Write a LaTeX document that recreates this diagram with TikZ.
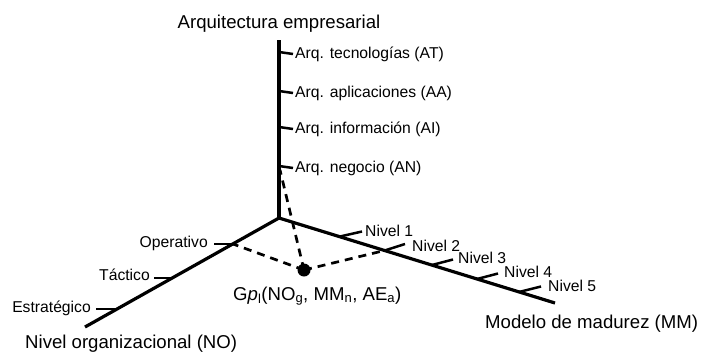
\documentclass[tikz,border=0pt]{standalone}
\usepackage{fontspec}
\setmainfont{Liberation Sans}
\begin{document}
\begin{tikzpicture}[x=1pt,y=-1pt,
  axis/.style={line width=3.2pt},
  tick/.style={line width=2.5pt},
  dashline/.style={line width=2.7pt, dash pattern=on 8pt off 6pt},
  big/.style={font=\fontsize{18.6}{22}\selectfont, inner sep=0pt},
  small/.style={font=\fontsize{15.7}{19}\selectfont, inner sep=0pt}]
\useasboundingbox (0,0) rectangle (709,351);
% axes
\coordinate (O) at (279,218);
\coordinate (AEtop) at (279,40);
\coordinate (NOend) at (85,327);
\coordinate (MMend) at (555,303);
\draw[axis] (AEtop) -- (O);
\draw[axis] (O) -- (NOend);
\draw[axis] (O) -- (MMend);
% vertical ticks
\coordinate (at) at (279,52); \coordinate (at2) at (293,54);
\coordinate (aa) at (279,91); \coordinate (aa2) at (293,93);
\coordinate (ai) at (279,127); \coordinate (ai2) at (293,129);
\coordinate (an) at (279,166); \coordinate (an2) at (293,168);
\draw[tick] (at) -- (at2);
\draw[tick] (aa) -- (aa2);
\draw[tick] (ai) -- (ai2);
\draw[tick] (an) -- (an2);
% NO ticks
\coordinate (op) at (233,244); \coordinate (op2) at (214,244);
\coordinate (ta) at (173,278); \coordinate (ta2) at (154,278);
\coordinate (es) at (117,309); \coordinate (es2) at (96,309);
\draw[tick] (op) -- (op2);
\draw[tick] (ta) -- (ta2);
\draw[tick] (es) -- (es2);
% MM ticks
\coordinate (n1) at (340,236.5); \coordinate (n1b) at (362,231.5);
\coordinate (n2) at (385,250.4); \coordinate (n2b) at (405,244);
\coordinate (n3) at (432,265); \coordinate (n3b) at (453,259.5);
\coordinate (n4) at (477,279); \coordinate (n4b) at (498,273.5);
\coordinate (n5) at (519,292); \coordinate (n5b) at (541,286.5);
\draw[tick] (n1) -- (n1b);
\draw[tick] (n2) -- (n2b);
\draw[tick] (n3) -- (n3b);
\draw[tick] (n4) -- (n4b);
\draw[tick] (n5) -- (n5b);
% point
\coordinate (P) at (304,270);
\coordinate (anP) at (280,170);
\draw[dashline] (P) -- (anP);
\draw[dashline] (P) -- (op);
\draw[dashline] (P) -- (n2);
\fill (P) circle (6.5pt);
% labels
\node[big, anchor=base] (lae) at (279,28) {Arquitectura empresarial};
\node[small, anchor=base west] (lat) at (295,58) {Arq. tecnologías (AT)};
\node[small, anchor=base west] (laa) at (295,97) {Arq. aplicaciones (AA)};
\node[small, anchor=base west] (lai) at (295,133) {Arq. información (AI)};
\node[small, anchor=base west] (lan) at (295,172) {Arq. negocio (AN)};
\node[small, anchor=base east] (lop) at (208,247) {Operativo};
\node[small, anchor=base east] (lta) at (150,280) {Táctico};
\node[small, anchor=base east] (les) at (91,312) {Estratégico};
\node[big, anchor=base west] (lno) at (25,348) {Nivel organizacional (NO)};
\node[small, anchor=base west] (ln1) at (365,236) {Nivel 1};
\node[small, anchor=base west] (ln2) at (412,251) {Nivel 2};
\node[small, anchor=base west] (ln3) at (458,263) {Nivel 3};
\node[small, anchor=base west] (ln4) at (504,277) {Nivel 4};
\node[small, anchor=base west] (ln5) at (548,291) {Nivel 5};
\node[big, anchor=base west] (lmm) at (485,328) {Modelo de madurez (MM)};
\node[big, anchor=base west] (lp) at (233,300) {G\textit{p}\textsubscript{l}(NO\textsubscript{g}, MM\textsubscript{n}, AE\textsubscript{a})};
\end{tikzpicture}
\end{document}
